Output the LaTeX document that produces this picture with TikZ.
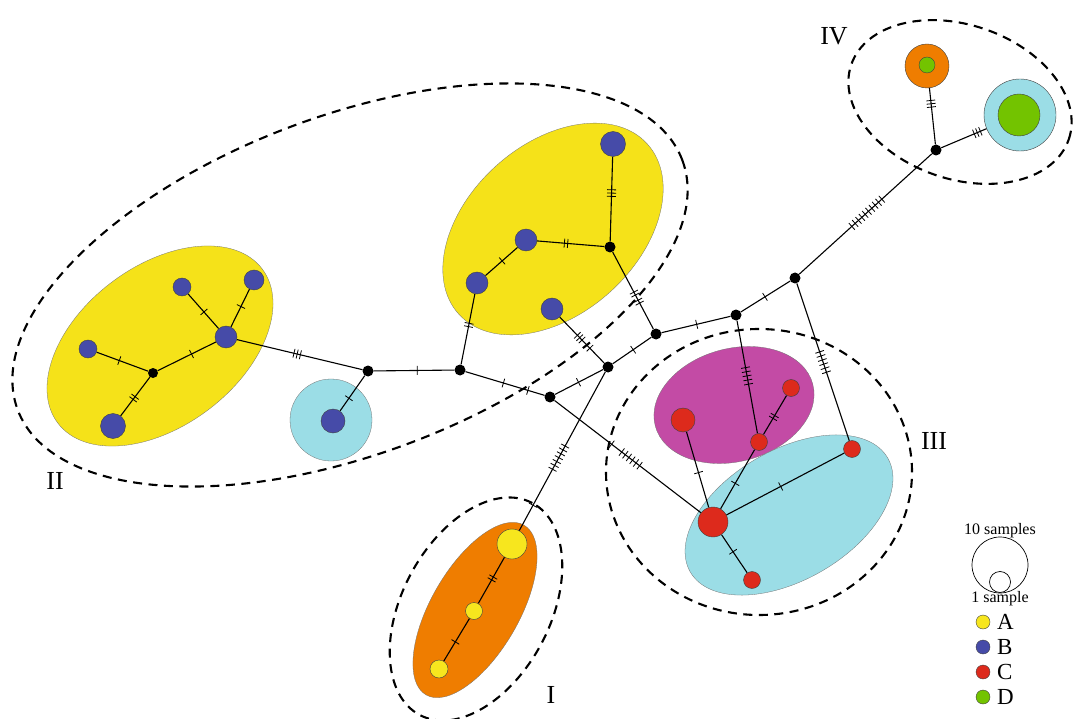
\documentclass[tikz,border=0pt]{standalone}
\usepackage{fontspec}
\setmainfont{Liberation Serif}
\usetikzlibrary{decorations.markings}
\definecolor{yelF}{RGB}{245,226,25}
\definecolor{oraF}{RGB}{239,125,0}
\definecolor{cyaF}{RGB}{155,221,230}
\definecolor{magF}{RGB}{195,75,165}
\definecolor{bluN}{RGB}{70,75,168}
\definecolor{redN}{RGB}{221,42,28}
\definecolor{grnN}{RGB}{115,195,0}
\definecolor{yelN}{RGB}{247,230,30}
\pgfdeclarelayer{bg}
\pgfdeclarelayer{edgelayer}
\pgfsetlayers{bg,edgelayer,main}
\begin{document}
\begin{tikzpicture}[x=1pt,y=-1pt,
  grp/.style={dash pattern=on 9pt off 6.5pt, line width=2.1pt},
  reg/.style={draw=black!55, line width=0.3pt},
  edge/.style={line width=1.1pt},
  hap/.style={circle, draw=black!75, line width=0.4pt, inner sep=0pt, minimum size=#1},
  jn/.style={circle, fill=black, inner sep=0pt, minimum size=11pt},
  tk/.style n args={3}{postaction={decorate,decoration={markings,
     mark=at position #2 with {\foreach \k in {1,...,#1}{\draw[line width=0.8pt] ({(\k-(#1+1)/2)*#3},-4.5pt) -- ({(\k-(#1+1)/2)*#3},4.5pt);}}}}},
  lab/.style={font=\fontsize{26}{26}\selectfont, inner sep=0pt},
  key/.style={font=\fontsize{23}{23}\selectfont, anchor=west, inner sep=0pt}
]
\useasboundingbox (0,0) rectangle (1076,719);

% ---------- regions ----------
\begin{pgfonlayer}{bg}
  \draw[grp, rotate around={20.6:(350,285)}] (350,285) ellipse [x radius=355pt, y radius=169pt];
  \draw[grp, rotate around={62:(476,609)}] (476,609) ellipse [x radius=120pt, y radius=74pt];
  \draw[grp] (759,472) ellipse [x radius=153pt, y radius=143pt];
  \draw[grp, rotate around={-19:(960,102)}] (960,102) ellipse [x radius=115pt, y radius=77pt];
  \fill[yelF, reg, rotate around={37:(160,346)}] (160,346) ellipse [x radius=128pt, y radius=80pt];
  \fill[yelF, reg, rotate around={42:(553,229)}] (553,229) ellipse [x radius=127pt, y radius=85pt];
  \fill[cyaF, reg] (331,420) circle [radius=41pt];
  \fill[oraF, reg, rotate around={60:(475,610)}] (475,610) ellipse [x radius=98pt, y radius=44pt];
  \fill[magF, reg, rotate around={15:(734,405)}] (734,405) ellipse [x radius=81.5pt, y radius=56.5pt];
  \fill[cyaF, reg, rotate around={30:(789,515)}] (789,515) ellipse [x radius=114pt, y radius=65pt];
\end{pgfonlayer}

% ---------- cluster IV ----------
\node[hap=44pt, fill=oraF] (O1) at (927,66) {};
\node[hap=16pt, fill=grnN] (O1g) at (927,65) {};
\node[hap=72pt, fill=cyaF] (C1) at (1020,115) {};
\node[hap=42pt, fill=grnN] (C1g) at (1019,115) {};
\node[jn] (J1) at (936,150) {};

% ---------- junctions ----------
\node[jn] (Ja) at (368,371) {};
\node[jn] (Jb) at (460,370) {};
\node[jn] (Jc) at (550,397) {};
\node[jn] (Jd) at (608,367) {};
\node[jn] (Je) at (656,334) {};
\node[jn] (Jf) at (736,315) {};
\node[jn] (Jg) at (795,278) {};
\node[jn] (Jh) at (610,247) {};
\node[jn, minimum size=10pt] (JL) at (153,373) {};

% ---------- cluster II ----------
\node[hap=22pt, fill=bluN] (Bh) at (226,337) {};
\node[hap=18pt, fill=bluN] (BL1) at (182,287) {};
\node[hap=20pt, fill=bluN] (BL2) at (254,280) {};
\node[hap=18pt, fill=bluN] (BL3) at (88,349) {};
\node[hap=25pt, fill=bluN] (BL4) at (113,426) {};
\node[hap=24pt, fill=bluN] (Bc) at (333,421) {};
\node[hap=22pt, fill=bluN] (B1) at (477,283) {};
\node[hap=22pt, fill=bluN] (B2) at (552,309) {};
\node[hap=22pt, fill=bluN] (B3) at (526,240) {};
\node[hap=25pt, fill=bluN] (B4) at (613,144) {};

% ---------- cluster I ----------
\node[hap=30pt, fill=yelN] (Y1) at (512,544) {};
\node[hap=17pt, fill=yelN] (Y2) at (474,611) {};
\node[hap=18pt, fill=yelN] (Y3) at (439,669) {};

% ---------- cluster III ----------
\node[hap=30pt, fill=redN] (R0) at (713,522) {};
\node[hap=24pt, fill=redN] (Ra) at (683,420) {};
\node[hap=17pt, fill=redN] (Rb) at (791,388) {};
\node[hap=17pt, fill=redN] (Rc) at (759,442) {};
\node[hap=17pt, fill=redN] (Rd) at (852,449) {};
\node[hap=17pt, fill=redN] (Re) at (752,580) {};

% ---------- edges ----------
\begin{pgfonlayer}{edgelayer}
  \draw[edge, tk={3}{0.57}{3.3pt}] (J1) -- (O1g);
  \draw[edge, tk={3}{0.62}{3.3pt}] (J1) -- (C1g);
  \draw[edge, tk={10}{0.51}{4.5pt}] (Jg) -- (J1);
  \draw[edge, tk={6}{0.50}{4.3pt}] (Jg) -- (Rd);
  \draw[edge, tk={5}{0.49}{4.2pt}] (Jf) -- (Rc);
  \draw[edge, tk={2}{0.45}{3.3pt}] (Rc) -- (Rb);
  \draw[edge, tk={1}{0.46}{3pt}] (R0) -- (Ra);
  \draw[edge, tk={1}{0.43}{3pt}] (R0) -- (Rc);
  \draw[edge, tk={1}{0.46}{3pt}] (R0) -- (Rd);
  \draw[edge, tk={1}{0.45}{3pt}] (R0) -- (Re);
  \draw[edge, tk={1}{0.39}{3pt}, tk={6}{0.52}{4.5pt}] (Jc) -- (R0);
  \draw[edge, tk={7}{0.54}{4.4pt}, tk={1}{0.84}{3pt}] (Jd) -- (Y1);
  \draw[edge, tk={2}{0.46}{3.3pt}] (Y1) -- (Y2);
  \draw[edge, tk={1}{0.55}{3pt}] (Y2) -- (Y3);
  \draw[edge, tk={1}{0.49}{3pt}] (Jc) -- (Jd);
  \draw[edge, tk={1}{0.53}{3pt}] (Jd) -- (Je);
  \draw[edge, tk={1}{0.51}{3pt}] (Je) -- (Jf);
  \draw[edge, tk={1}{0.49}{3pt}] (Jf) -- (Jg);
  \draw[edge, tk={2}{0.54}{3.3pt}, tk={2}{0.645}{3.3pt}] (Jh) -- (Je);
  \draw[edge, tk={3}{0.57}{3.3pt}] (Jh) -- (B4);
  \draw[edge, tk={2}{0.57}{3.3pt}] (Jh) -- (B3);
  \draw[edge, tk={1}{0.48}{3pt}] (B3) -- (B1);
  \draw[edge, tk={2}{0.44}{3.3pt}] (B1) -- (Jb);
  \draw[edge, tk={1}{0.48}{3pt}, tk={1}{0.79}{3pt}] (Jb) -- (Jc);
  \draw[edge, tk={3}{0.45}{3.3pt}, tk={1}{0.68}{3pt}] (B2) -- (Jd);
  \draw[edge, tk={1}{0.54}{3pt}] (Ja) -- (Jb);
  \draw[edge, tk={3}{0.52}{3.3pt}] (Ja) -- (Bh);
  \draw[edge, tk={1}{0.64}{3pt}] (Ja) -- (Bc);
  \draw[edge, tk={1}{0.48}{3pt}] (Bh) -- (BL1);
  \draw[edge, tk={1}{0.54}{3pt}] (Bh) -- (BL2);
  \draw[edge, tk={1}{0.42}{3pt}] (Bh) -- (JL);
  \draw[edge, tk={1}{0.56}{3pt}] (JL) -- (BL3);
  \draw[edge, tk={2}{0.54}{3.3pt}] (JL) -- (BL4);
\end{pgfonlayer}

% ---------- labels ----------
\node[lab] (tIV) at (834,36) {IV};
\node[lab] (tII) at (55,481) {II};
\node[lab] (tIII) at (934,441) {III};
\node[lab] (tI) at (551,695) {I};

% ---------- legend ----------
\node[font=\fontsize{16}{16}\selectfont, inner sep=0pt] (l10) at (1000,531) {10 samples};
\node[circle, draw, line width=0.7pt, minimum size=56pt, inner sep=0pt] (s10) at (1000,565) {};
\node[circle, draw, line width=0.7pt, minimum size=21pt, inner sep=0pt] (s1) at (1000,582) {};
\node[font=\fontsize{16}{16}\selectfont, inner sep=0pt] (l1) at (1000,599) {1 sample};
\node[hap=14pt, fill=yelN] (kA) at (983,622) {};
\node[hap=14pt, fill=bluN] (kB) at (983,647) {};
\node[hap=14pt, fill=redN] (kC) at (983,672) {};
\node[hap=14pt, fill=grnN] (kD) at (983,697) {};
\node[key] (tA) at (997,622) {A};
\node[key] (tB) at (997,647) {B};
\node[key] (tC) at (997,672) {C};
\node[key] (tD) at (997,697) {D};
\end{tikzpicture}
\end{document}
